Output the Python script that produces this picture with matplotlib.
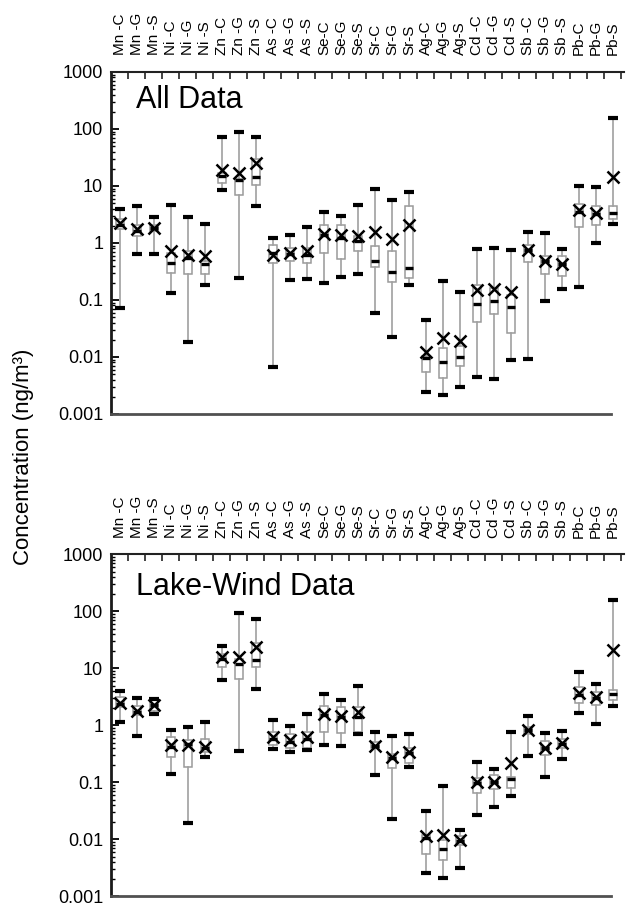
import matplotlib
matplotlib.use("Agg")
import matplotlib.pyplot as plt
from matplotlib.ticker import LogLocator, NullFormatter

plt.rcParams['font.family'] = ['Liberation Sans', 'DejaVu Sans']

categories = ["Mn -C", "Mn -G", "Mn -S", "Ni -C", "Ni -G", "Ni -S",
              "Zn -C", "Zn -G", "Zn -S", "As -C", "As -G", "As -S",
              "Se-C", "Se-G", "Se-S", "Sr-C", "Sr-G", "Sr-S",
              "Ag-C", "Ag-G", "Ag-S", "Cd -C", "Cd -G", "Cd -S",
              "Sb -C", "Sb -G", "Sb -S", "Pb-C", "Pb-G", "Pb-S"]

# ---- All data (ng/m3) ----
all_min = [0.072, 0.65, 0.65, 0.133, 0.0186, 0.186, 8.5, 0.24, 4.4,
           0.0067, 0.22, 0.237, 0.2, 0.25, 0.29, 0.059, 0.022, 0.18,
           0.0024, 0.00215, 0.003, 0.0045, 0.0041, 0.0087, 0.0092, 0.097, 0.154,
           0.167, 1.0, 2.13]
all_q1 = [1.75, 1.3, 1.6, 0.30, 0.29, 0.28, 11.3, 7.0, 10.5,
          0.45, 0.48, 0.45, 0.67, 0.53, 0.71, 0.38, 0.207, 0.243,
          0.0054, 0.0043, 0.007, 0.0406, 0.0576, 0.0264, 0.46, 0.286, 0.26,
          1.88, 2.04, 2.67]
all_med = [2.1, 1.6, 1.8, 0.45, 0.55, 0.43, 15.0, 12.5, 14.4,
           0.67, 0.65, 0.62, 1.4, 1.2, 1.1, 0.48, 0.31, 0.36,
           0.0095, 0.0081, 0.0099, 0.085, 0.095, 0.074, 0.74, 0.48, 0.43,
           3.5, 3.2, 3.36]
all_q3 = [2.6, 2.1, 2.1, 0.67, 0.71, 0.48, 17.0, 13.5, 30.0,
          0.93, 0.82, 0.82, 2.1, 2.1, 1.31, 0.87, 0.73, 4.4,
          0.0103, 0.0144, 0.0154, 0.186, 0.162, 0.124, 0.93, 0.58, 0.6,
          4.9, 4.4, 4.4]
all_max = [3.9, 4.4, 2.86, 4.7, 2.8, 2.18, 71.0, 88.0, 72.0,
           1.22, 1.36, 1.88, 3.5, 2.94, 4.6, 8.9, 5.75, 7.7,
           0.044, 0.215, 0.136, 0.785, 0.817, 0.754, 1.58, 1.52, 0.77,
           10.0, 9.6, 156.0]
all_mean = [2.2, 1.78, 1.83, 0.71, 0.62, 0.6, 18.8, 16.9, 25.0,
            0.62, 0.67, 0.71, 1.46, 1.36, 1.31, 1.56, 1.16, 2.04,
            0.0122, 0.0216, 0.0188, 0.148, 0.158, 0.138, 0.76, 0.49, 0.43,
            3.8, 3.36, 14.2]

# ---- Lake-wind data (ng/m3) ----
lw_min = [1.16, 0.66, 1.62, 0.139, 0.0193, 0.28, 6.2, 0.35, 4.4,
          0.39, 0.345, 0.37, 0.45, 0.43, 0.70, 0.135, 0.0227, 0.189,
          0.00258, 0.0021, 0.0031, 0.027, 0.0378, 0.058, 0.29, 0.126, 0.254,
          1.67, 1.05, 2.18]
lw_q1 = [2.1, 1.51, 1.8, 0.275, 0.189, 0.346, 10.6, 6.5, 10.6,
         0.45, 0.40, 0.40, 0.77, 0.74, 0.77, 0.40, 0.177, 0.222,
         0.0056, 0.0043, 0.0081, 0.0646, 0.076, 0.079, 0.72, 0.30, 0.40,
         2.43, 2.27, 2.77]
lw_med = [2.4, 1.75, 2.3, 0.42, 0.48, 0.40, 14.9, 12.0, 14.3,
          0.59, 0.52, 0.59, 1.5, 1.4, 1.42, 0.44, 0.27, 0.33,
          0.0105, 0.0069, 0.0095, 0.097, 0.10, 0.115, 0.82, 0.40, 0.48,
          3.4, 3.0, 3.53]
lw_q3 = [3.2, 2.18, 2.77, 0.63, 0.55, 0.59, 18.2, 14.5, 27.9,
         0.77, 0.72, 0.77, 2.18, 2.12, 2.12, 0.52, 0.32, 0.40,
         0.0121, 0.0099, 0.0113, 0.118, 0.135, 0.126, 0.95, 0.54, 0.59,
         4.75, 3.88, 4.15]
lw_max = [4.0, 3.09, 2.97, 0.83, 0.95, 1.16, 24.4, 93.0, 74.5,
          1.27, 0.97, 1.56, 3.63, 2.77, 4.9, 0.77, 0.65, 0.70,
          0.0321, 0.088, 0.0148, 0.225, 0.17, 0.77, 1.46, 0.74, 0.81,
          8.7, 5.3, 162.0]
lw_mean = [2.5, 1.8, 2.27, 0.45, 0.45, 0.42, 15.9, 15.9, 23.8,
           0.63, 0.55, 0.63, 1.62, 1.46, 1.73, 0.44, 0.283, 0.345,
           0.0116, 0.0121, 0.0096, 0.103, 0.103, 0.216, 0.83, 0.41, 0.50,
           3.73, 3.17, 20.8]

ytick_vals = [0.001, 0.01, 0.1, 1, 10, 100, 1000]
ytick_labels = ["0.001", "0.01", "0.1", "1", "10", "100", "1000"]


def build_stats(lo, q1, med, q3, hi, mean):
    return [dict(whislo=a, q1=b, med=c, q3=d, whishi=e, mean=f, fliers=[])
            for a, b, c, d, e, f in zip(lo, q1, med, q3, hi, mean)]


def draw_panel(ax, stats, title, title_y):
    n = len(stats)
    ax.bxp(stats, positions=list(range(n)), widths=0.42, capwidths=0.62,
           showmeans=True, showfliers=False, patch_artist=True,
           boxprops=dict(facecolor="white", edgecolor="#9a9a9a", linewidth=1.1),
           whiskerprops=dict(color="#a0a0a0", linewidth=1.2),
           capprops=dict(color="black", linewidth=3.0, solid_capstyle="butt"),
           medianprops=dict(color="black", linewidth=2.4, solid_capstyle="butt"),
           meanprops=dict(marker="x", markeredgecolor="black",
                          markersize=8, markeredgewidth=1.8))
    ax.set_yscale("log")
    ax.set_ylim(0.001, 1000)
    ax.set_xlim(-0.5, 29.68)

    ax.set_yticks(ytick_vals)
    ax.set_yticklabels(ytick_labels)
    ax.yaxis.set_minor_locator(LogLocator(base=10, subs=range(2, 10), numticks=20))
    ax.yaxis.set_minor_formatter(NullFormatter())
    ax.tick_params(axis="y", which="major", direction="in", length=6, width=1.3,
                   labelsize=13, pad=6, right=False)
    ax.tick_params(axis="y", which="minor", direction="in", length=3, width=1.0,
                   right=False)

    ax.set_xticks(list(range(n)))
    ax.set_xticklabels(categories, rotation=90)
    ax.set_xticks([i + 0.5 for i in range(n)], minor=True)
    ax.tick_params(axis="x", which="major", top=True, bottom=False,
                   labeltop=True, labelbottom=False, length=0, pad=12,
                   labelsize=11)
    ax.tick_params(axis="x", which="minor", top=True, bottom=False,
                   direction="in", length=5, width=1.2, color="#222222")

    ax.spines["right"].set_visible(False)
    ax.spines["left"].set_linewidth(2.0)
    ax.spines["left"].set_color("#1a1a1a")
    ax.spines["top"].set_linewidth(1.5)
    ax.spines["top"].set_color("#222222")
    ax.spines["bottom"].set_linewidth(2.0)
    ax.spines["bottom"].set_color("#505050")
    ax.spines["bottom"].set_bounds(-0.5, 28.86)

    ax.text(0.048, title_y, title, transform=ax.transAxes, fontsize=22,
            va="baseline", ha="left")


fig = plt.figure(figsize=(6.26, 9.07), dpi=100)
ax_top = fig.add_axes([0.1781, 0.5436, 0.8195, 0.3771])
ax_bot = fig.add_axes([0.1781, 0.0116, 0.8195, 0.3771])

draw_panel(ax_top, build_stats(all_min, all_q1, all_med, all_q3, all_max, all_mean),
           "All Data", 0.895)
draw_panel(ax_bot, build_stats(lw_min, lw_q1, lw_med, lw_q3, lw_max, lw_mean),
           "Lake-Wind Data", 0.8825)

fig.text(0.038, 0.496, "Concentration (ng/m³)", rotation=90, fontsize=16,
         ha="center", va="center")

fig.savefig("out.png", dpi=100)
